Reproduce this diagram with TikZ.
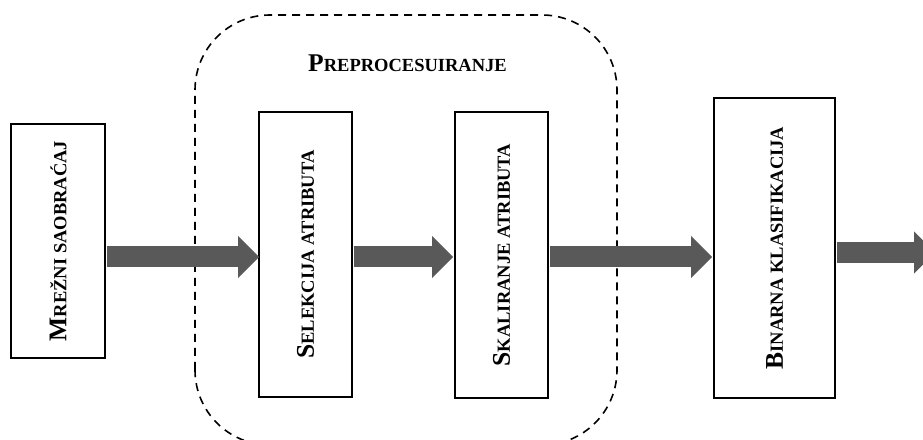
\documentclass[tikz,border=0pt]{standalone}
\usepackage{fontspec}
\setmainfont{Liberation Serif}
\usetikzlibrary{arrows.meta}
% capital initial followed by smaller capitals
\newcommand{\capsinit}[2]{{\fontsize{25.5}{30}\selectfont #1}{\fontsize{18.5}{22}\selectfont #2}}
\tikzset{
  stage/.style={draw=black, line width=1.8pt, fill=white, inner sep=0pt,
    font=\bfseries},
  blockarrow/.style={draw={rgb,255:red,89;green,89;blue,89}, line width=21pt,
    -{Triangle[width=41pt,length=21pt]}},
  groupframe/.style={draw=black, line width=1.6pt, dash pattern=on 8pt off 6pt,
    rounded corners=75pt},
}
\begin{document}
\begin{tikzpicture}[x=1pt,y=1pt]
  \useasboundingbox (0,0) rectangle (923,439);
  \clip (0,0) rectangle (923,439);

  % dashed group frame around preprocessing
  \draw[groupframe] (195,-6) rectangle (617,424);
  \node[font=\bfseries, anchor=base] (pre) at (407.5,367) {\capsinit{P}{REPROCESUIRANJE}};

  % processing stages
  \node[stage, minimum width=94pt, minimum height=234pt] (b1) at (58,198) {};
  \node[stage, minimum width=93pt, minimum height=285pt] (b2) at (305.5,184.5) {};
  \node[stage, minimum width=93pt, minimum height=286pt] (b3) at (501.5,184) {};
  \node[stage, minimum width=121pt, minimum height=300pt] (b4) at (774.5,191) {};

  \node[font=\bfseries, rotate=90] (t1) at (b1.center) {\capsinit{M}{REŽNI SAOBRAĆAJ}};
  \node[font=\bfseries, rotate=90] (t2) at (b2.center) {\capsinit{S}{ELEKCIJA ATRIBUTA}};
  \node[font=\bfseries, rotate=90] (t3) at (b3.center) {\capsinit{S}{KALIRANJE ATRIBUTA}};
  \node[font=\bfseries, rotate=90] (t4) at (b4.center) {\capsinit{B}{INARNA KLASIFIKACIJA}};

  % arrow levels
  \coordinate (lvl) at (0,182);
  \coordinate (lvlout) at (0,186.5);
  \coordinate (out) at (935,186.5);

  % block arrows between stages
  \draw[blockarrow] ([xshift=1pt]b1.east |- lvl) -- ([xshift=1pt]b2.west |- lvl);
  \draw[blockarrow] ([xshift=1pt]b2.east |- lvl) -- ([xshift=-1pt]b3.west |- lvl);
  \draw[blockarrow] ([xshift=1pt]b3.east |- lvl) -- ([xshift=-1pt]b4.west |- lvl);
  \draw[blockarrow] ([xshift=1pt]b4.east |- lvlout) -- (out);
\end{tikzpicture}
\end{document}
